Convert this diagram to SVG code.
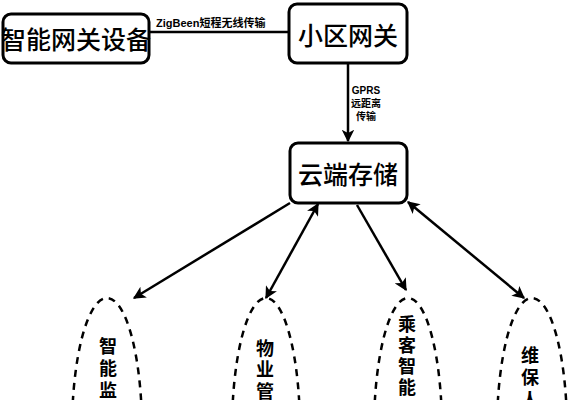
<svg xmlns="http://www.w3.org/2000/svg" width="570" height="400" viewBox="0 0 570 400">
<defs>
<style>
.box{fill:#fff;stroke:#000;stroke-width:3}
.bt{font-family:"Noto Sans CJK SC","Liberation Sans",sans-serif;font-weight:500;font-size:25px;fill:#000;text-anchor:middle;dominant-baseline:central}
.lbl{font-family:"Liberation Sans","Noto Sans CJK SC",sans-serif;font-weight:bold;fill:#000}
.ell{fill:none;stroke:#000;stroke-width:2.5;stroke-dasharray:7,6}
.vt{font-family:"Noto Sans CJK SC",sans-serif;font-weight:bold;font-size:18px;fill:#000;writing-mode:vertical-rl;text-orientation:upright}
.ln{stroke:#000;stroke-width:2.5;fill:none}
</style>
<marker id="ah" viewBox="0 0 10 10" refX="9" refY="5" markerWidth="5" markerHeight="5" orient="auto-start-reverse" markerUnits="strokeWidth">
<path d="M0,0 L10,5 L0,10 L2.5,5 Z" fill="#000"/>
</marker>
</defs>
<rect width="570" height="400" fill="#fff"/>
<g id="connectors">
<line class="ln" x1="149" y1="32" x2="289" y2="32"/>
<text class="lbl" x="156" y="27" font-size="11">ZigBeen短程无线传输</text>
<line class="ln" x1="348" y1="63" x2="348" y2="141" marker-end="url(#ah)"/>
<text class="lbl" x="366" y="94" font-size="10" text-anchor="middle">GPRS</text>
<text class="lbl" x="366" y="107" font-size="10" text-anchor="middle">远距离</text>
<text class="lbl" x="366" y="120" font-size="10" text-anchor="middle">传输</text>
<line class="ln" x1="290" y1="203" x2="134" y2="298" marker-end="url(#ah)"/>
<line class="ln" x1="318" y1="204" x2="266" y2="298" marker-start="url(#ah)" marker-end="url(#ah)"/>
<line class="ln" x1="357" y1="205" x2="406" y2="290" marker-end="url(#ah)"/>
<line class="ln" x1="408" y1="202" x2="524" y2="298" marker-start="url(#ah)" marker-end="url(#ah)"/>
</g>
<g id="node-gateway-device">
<rect class="box" x="3" y="14" width="146" height="49" rx="8"/>
<text class="bt" x="76" y="38" font-size="23">智能网关设备</text>
</g>
<g id="node-community-gateway">
<rect class="box" x="289" y="4" width="118" height="59" rx="8"/>
<text class="bt" x="348" y="34">小区网关</text>
</g>
<g id="node-cloud">
<rect class="box" x="290" y="143" width="117" height="60" rx="8"/>
<text class="bt" x="348" y="173">云端存储</text>
</g>
<g id="node-monitor">
<ellipse class="ell" cx="107" cy="430" rx="35" ry="132"/>
<text class="vt" x="108" y="337" font-size="17" letter-spacing="4">智能监控</text>
</g>
<g id="node-property">
<ellipse class="ell" cx="266" cy="430" rx="34" ry="132"/>
<text class="vt" x="265" y="339" letter-spacing="3.5">物业管</text>
</g>
<g id="node-passenger">
<ellipse class="ell" cx="408" cy="430" rx="34" ry="132"/>
<text class="vt" x="407" y="315" letter-spacing="3">乘客智能</text>
</g>
<g id="node-maintenance">
<ellipse class="ell" cx="532" cy="430" rx="35" ry="132"/>
<text class="vt" x="530" y="346" font-size="21" letter-spacing="4">维保人</text>
</g>
</svg>
